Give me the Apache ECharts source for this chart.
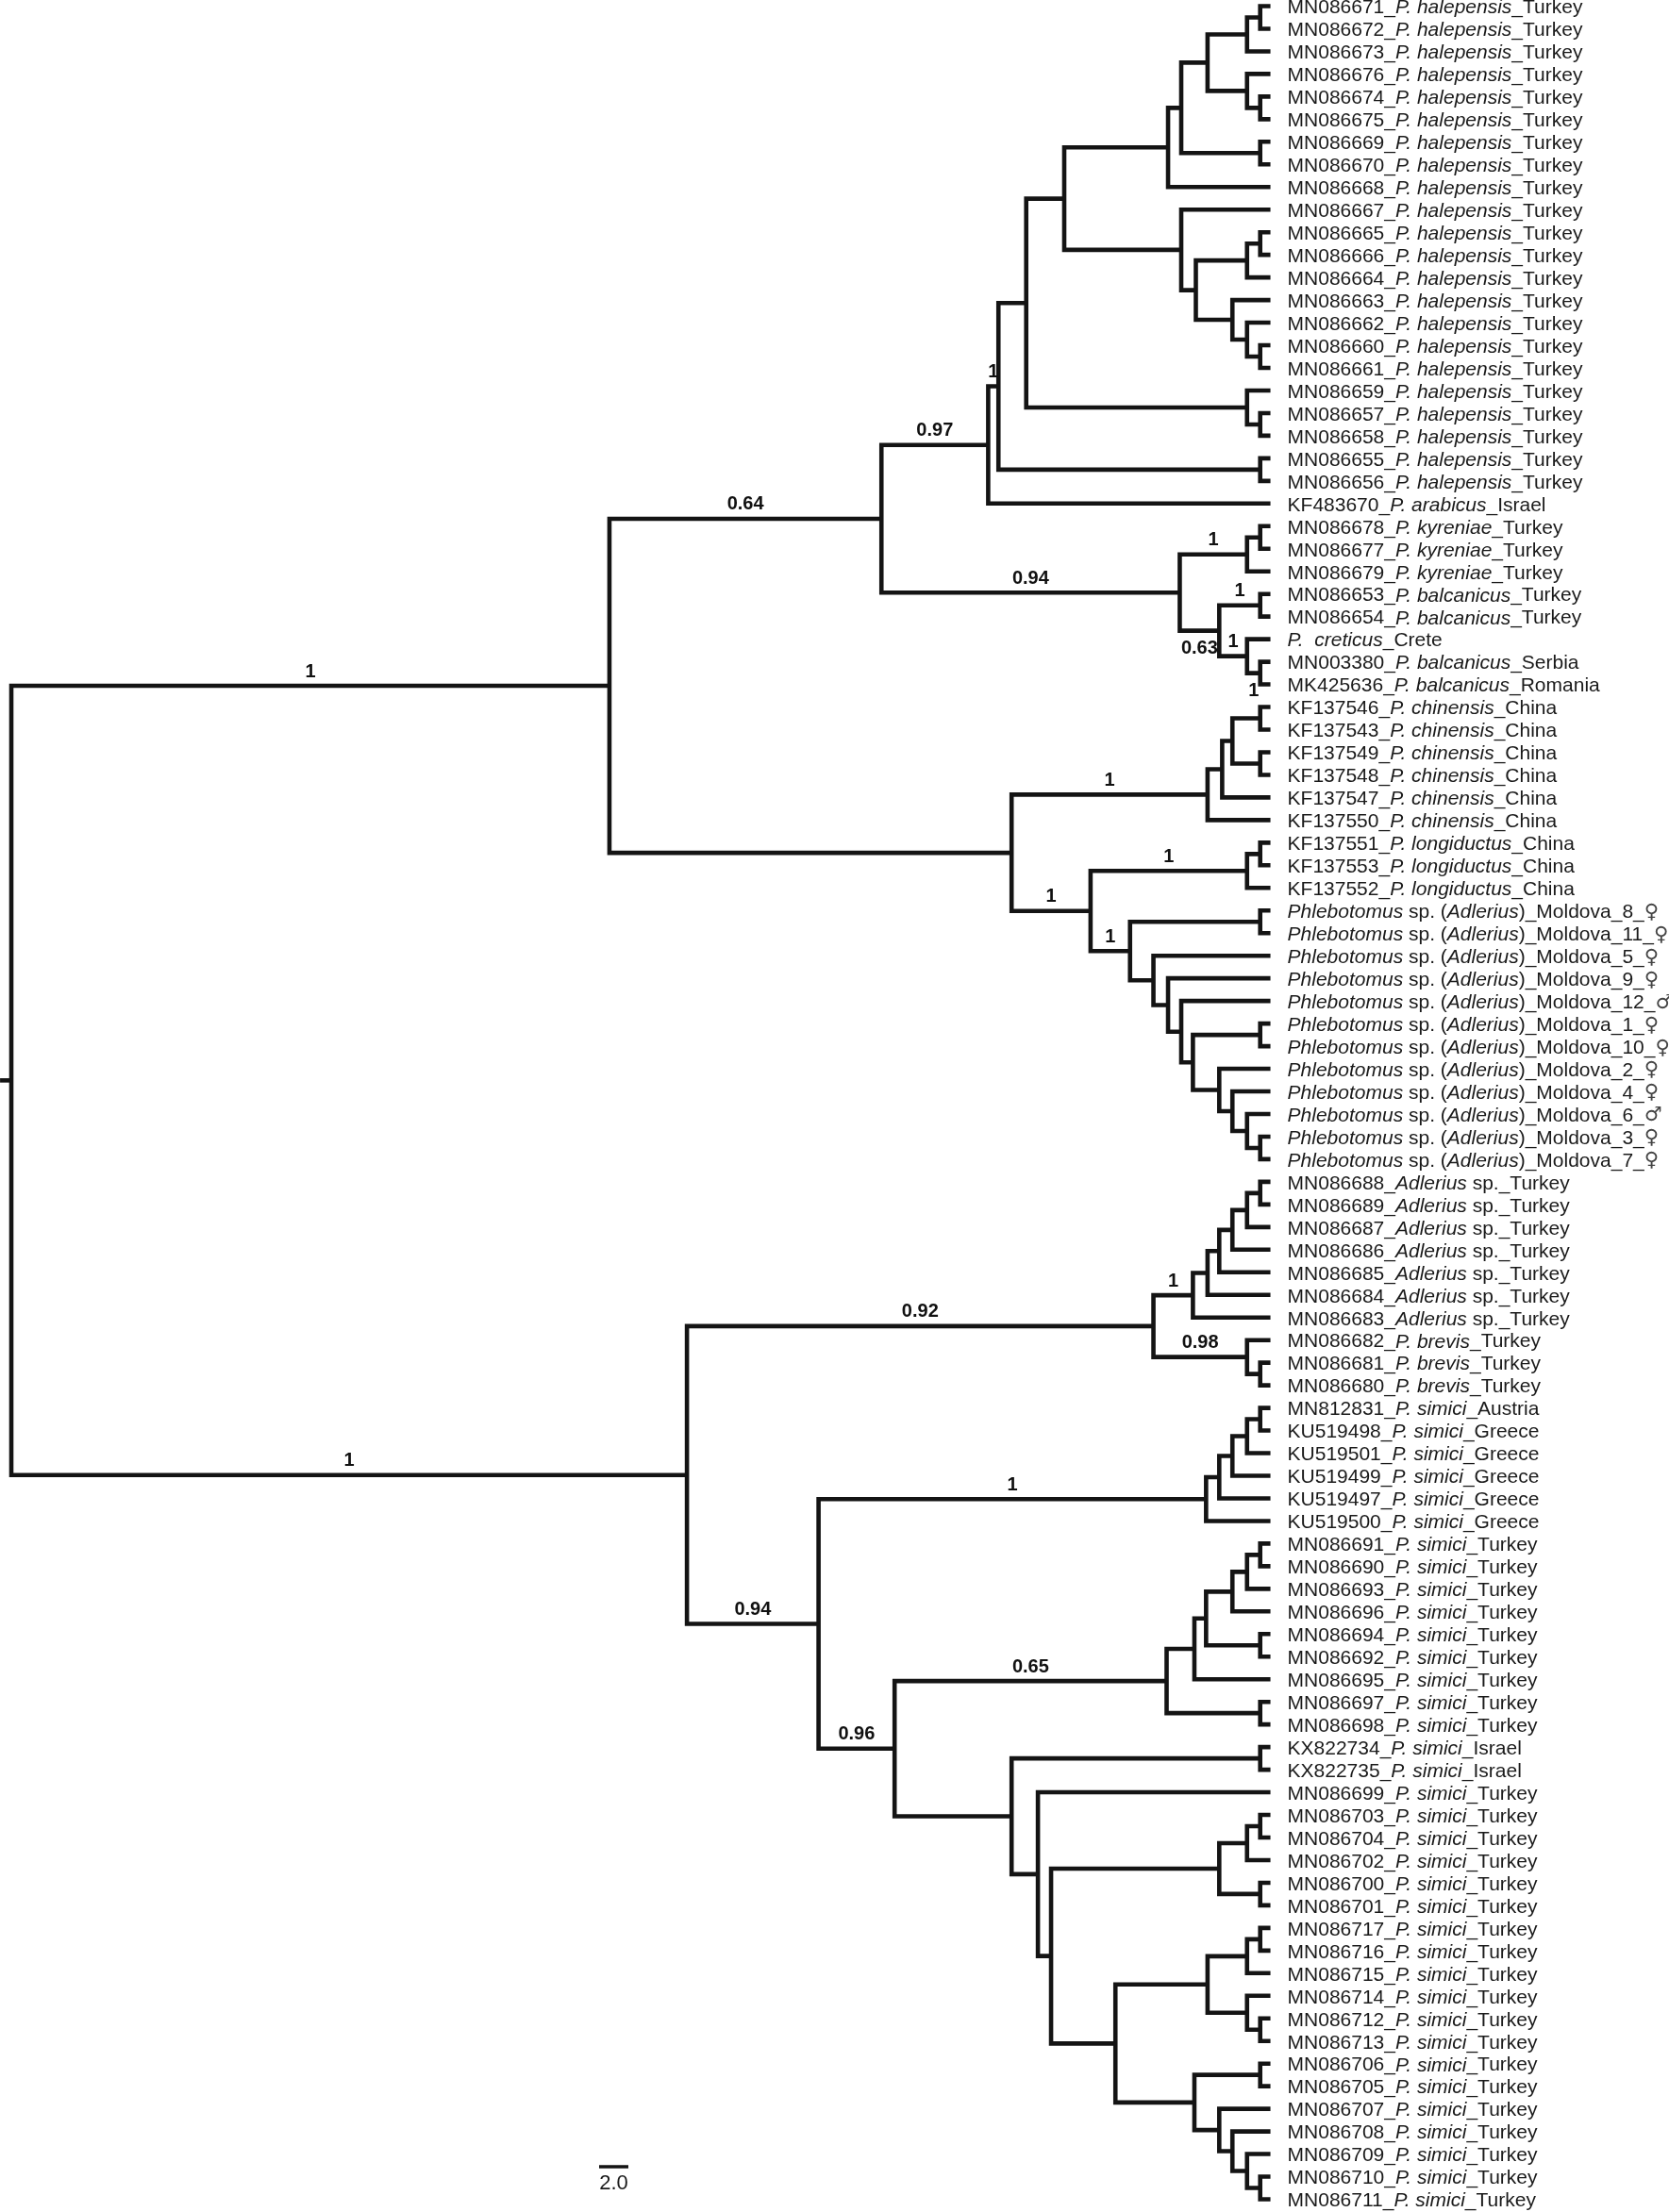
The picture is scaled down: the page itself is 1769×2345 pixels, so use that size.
<!DOCTYPE html>
<html><head><meta charset="utf-8">
<script src="https://cdn.jsdelivr.net/npm/echarts@6/dist/echarts.min.js"></script>
<style>html,body{margin:0;padding:0;background:#fff}#c{width:1769px;height:2345px}</style>
</head><body><div id="c"></div>
<script>
// ---------- DATA ----------
// Tip labels, top to bottom (text between * * is italic)
const leafLabels = [
"MN086671_*P. halepensis*_Turkey","MN086672_*P. halepensis*_Turkey","MN086673_*P. halepensis*_Turkey",
"MN086676_*P. halepensis*_Turkey","MN086674_*P. halepensis*_Turkey","MN086675_*P. halepensis*_Turkey",
"MN086669_*P. halepensis*_Turkey","MN086670_*P. halepensis*_Turkey","MN086668_*P. halepensis*_Turkey",
"MN086667_*P. halepensis*_Turkey","MN086665_*P. halepensis*_Turkey","MN086666_*P. halepensis*_Turkey",
"MN086664_*P. halepensis*_Turkey","MN086663_*P. halepensis*_Turkey","MN086662_*P. halepensis*_Turkey",
"MN086660_*P. halepensis*_Turkey","MN086661_*P. halepensis*_Turkey","MN086659_*P. halepensis*_Turkey",
"MN086657_*P. halepensis*_Turkey","MN086658_*P. halepensis*_Turkey","MN086655_*P. halepensis*_Turkey",
"MN086656_*P. halepensis*_Turkey","KF483670_*P. arabicus*_Israel",
"MN086678_*P. kyreniae*_Turkey","MN086677_*P. kyreniae*_Turkey","MN086679_*P. kyreniae*_Turkey",
"MN086653_*P. balcanicus*_Turkey","MN086654_*P. balcanicus*_Turkey","*P.  creticus*_Crete",
"MN003380_*P. balcanicus*_Serbia","MK425636_*P. balcanicus*_Romania",
"KF137546_*P. chinensis*_China","KF137543_*P. chinensis*_China","KF137549_*P. chinensis*_China",
"KF137548_*P. chinensis*_China","KF137547_*P. chinensis*_China","KF137550_*P. chinensis*_China",
"KF137551_*P. longiductus*_China","KF137553_*P. longiductus*_China","KF137552_*P. longiductus*_China",
"*Phlebotomus* sp. (*Adlerius*)_Moldova_8_♀","*Phlebotomus* sp. (*Adlerius*)_Moldova_11_♀",
"*Phlebotomus* sp. (*Adlerius*)_Moldova_5_♀","*Phlebotomus* sp. (*Adlerius*)_Moldova_9_♀",
"*Phlebotomus* sp. (*Adlerius*)_Moldova_12_♂","*Phlebotomus* sp. (*Adlerius*)_Moldova_1_♀",
"*Phlebotomus* sp. (*Adlerius*)_Moldova_10_♀","*Phlebotomus* sp. (*Adlerius*)_Moldova_2_♀",
"*Phlebotomus* sp. (*Adlerius*)_Moldova_4_♀","*Phlebotomus* sp. (*Adlerius*)_Moldova_6_♂",
"*Phlebotomus* sp. (*Adlerius*)_Moldova_3_♀","*Phlebotomus* sp. (*Adlerius*)_Moldova_7_♀",
"MN086688_*Adlerius* sp._Turkey","MN086689_*Adlerius* sp._Turkey","MN086687_*Adlerius* sp._Turkey",
"MN086686_*Adlerius* sp._Turkey","MN086685_*Adlerius* sp._Turkey","MN086684_*Adlerius* sp._Turkey",
"MN086683_*Adlerius* sp._Turkey","MN086682_*P. brevis*_Turkey","MN086681_*P. brevis*_Turkey",
"MN086680_*P. brevis*_Turkey","MN812831_*P. simici*_Austria","KU519498_*P. simici*_Greece",
"KU519501_*P. simici*_Greece","KU519499_*P. simici*_Greece","KU519497_*P. simici*_Greece",
"KU519500_*P. simici*_Greece","MN086691_*P. simici*_Turkey","MN086690_*P. simici*_Turkey",
"MN086693_*P. simici*_Turkey","MN086696_*P. simici*_Turkey","MN086694_*P. simici*_Turkey",
"MN086692_*P. simici*_Turkey","MN086695_*P. simici*_Turkey","MN086697_*P. simici*_Turkey",
"MN086698_*P. simici*_Turkey","KX822734_*P. simici*_Israel","KX822735_*P. simici*_Israel",
"MN086699_*P. simici*_Turkey","MN086703_*P. simici*_Turkey","MN086704_*P. simici*_Turkey",
"MN086702_*P. simici*_Turkey","MN086700_*P. simici*_Turkey","MN086701_*P. simici*_Turkey",
"MN086717_*P. simici*_Turkey","MN086716_*P. simici*_Turkey","MN086715_*P. simici*_Turkey",
"MN086714_*P. simici*_Turkey","MN086712_*P. simici*_Turkey","MN086713_*P. simici*_Turkey",
"MN086706_*P. simici*_Turkey","MN086705_*P. simici*_Turkey","MN086707_*P. simici*_Turkey",
"MN086708_*P. simici*_Turkey","MN086709_*P. simici*_Turkey","MN086710_*P. simici*_Turkey",
"MN086711_*P. simici*_Turkey"
];

// Tree topology: tips are 1-based indices into leafLabels.
// ":d" = node depth from the root (scale units), "[s]" = posterior support, "b" = label drawn under branch
const tipDepth = 86.1;
const rootStub = 0.77;
const cladeHalep1 = "((((((1,2):85.4,3):84.5,(4,(5,6):85.4):84.5):81.8,(7,8):85.4):80.0,9):79.1,(10,(((11,12):85.4,13):84.5,(14,(15,(16,17):85.4):84.5):83.5):81.0):80.0):72.0";
const cladeHalep = "(((" + cladeHalep1 + ",(18,(19,20):85.4):84.5):69.4,(21,22):85.4):67.5[1],23):66.8[0.97]";
const cladeKyrBalc = "(((24,25):85.4,26):84.5[1],((27,28):85.4[1],(29,(30,31):85.4[1b]):84.5[1]):82.6[0.63b]):79.9[0.94]";
const cladeChin = "((((32,33):85.4,(34,35):85.4):83.5,36):82.8,37):81.8[1]";
const cladeMold = "(((38,39):85.4,40):84.5[1],((41,42):85.4,(43,(44,(45,((46,47):85.4,(48,(49,(50,(51,52):85.4):84.5):83.5):82.6):80.8):80.0):79.1):78.1):76.5[1]):73.8[1]";
const cladeUpper = "((" + cladeHalep + "," + cladeKyrBalc + "):59.5[0.64],(" + cladeChin + "," + cladeMold + "):68.4):40.9[1]";
const cladeBrevis = "(((((((53,54):85.4,55):84.5,56):83.5,57):82.6,58):81.8,59):80.8[1],(60,(61,62):85.4):84.5[0.98]):78.1[0.92]";
const cladeSimGr = "(((((63,64):85.4,65):84.5,66):83.5,67):82.6,68):81.7[1]";
const cladeSimTr1 = "((((((69,70):85.4,71):84.5,72):83.5,(73,74):85.4):81.7,75):80.9,(76,77):85.4):79.0[0.65]";
const cladeSimTr2 = "((78,79):85.4,(80,((((81,82):85.4,83):84.5,(84,85):85.4):82.6,((((86,87):85.4,88):84.5,(89,(90,91):85.4):84.5):81.8,((92,93):85.4,(94,(95,(96,(97,98):85.4):84.5):83.5):82.6):80.9):75.5):71.1):70.2):68.4";
const cladeLower = "(" + cladeBrevis + ",(" + cladeSimGr + ",(" + cladeSimTr1 + "," + cladeSimTr2 + "):60.4[0.96]):55.2[0.94]):46.2[1]";
const newick = "(" + cladeUpper + "," + cladeLower + "):0";

const scaleBarLength = 2.0;
const scaleBarLabel = "2.0";

// ---------- PARSE / LAYOUT ----------
function parseNewick(s) {
  let i = 0;
  function node() {
    const n = { children: [] };
    if (s[i] === '(') {
      i++;
      n.children.push(node());
      while (s[i] === ',') { i++; n.children.push(node()); }
      i++; // ')'
    } else {
      const m = /^\d+/.exec(s.slice(i)); n.leaf = +m[0]; i += m[0].length;
    }
    if (s[i] === ':') { i++; const m = /^[\d.]+/.exec(s.slice(i)); n.depth = +m[0]; i += m[0].length; }
    if (s[i] === '[') { const j = s.indexOf(']', i); const t = s.slice(i + 1, j); n.below = t.endsWith('b'); n.support = t.replace('b', ''); i = j + 1; }
    return n;
  }
  return node();
}
const tree = parseNewick(newick);
const nodes = [];
(function layout(n) {
  if (n.leaf !== undefined) { n.y = n.leaf - 1; n.d = tipDepth; }
  else { n.children.forEach(layout); n.y = (n.children[0].y + n.children[n.children.length - 1].y) / 2; n.d = n.depth; }
  nodes.push(n);
})(tree);

const paths = [];
const supports = [];
nodes.forEach(n => {
  if (!n.children.length) return;
  const a = n.children[0], b = n.children[n.children.length - 1];
  paths.push([[a.d, a.y], [n.d, a.y], [n.d, b.y], [b.d, b.y]]);
  n.children.slice(1, -1).forEach(c => paths.push([[n.d, c.y], [c.d, c.y]]));
  n.children.forEach(c => { if (c.support) supports.push({ x: (n.d + c.d) / 2, y: c.y, text: c.support, below: c.below }); });
});
paths.push([[-rootStub, tree.y], [0, tree.y]]);

// ---------- CHART ----------
const FONT = '"Liberation Sans", Arial, Helvetica, "DejaVu Sans", sans-serif';
const INK = '#141414';
const toRich = s => s.replace(/\*([^*]+)\*/g, '{i|$1}').replace(/([♀♂])/g, '{s|$1}');

const chart = echarts.init(document.getElementById('c'));
chart.setOption({
  animation: false,
  backgroundColor: '#ffffff',
  grid: { left: 12, top: 6.5, width: 1550, height: 2325 },
  xAxis: { type: 'value', min: 0, max: 100, show: false },
  yAxis: { type: 'value', min: 0, max: 97, inverse: true, show: false },
  series: [
    {
      type: 'custom', silent: true, clip: false,
      data: paths.map(p => [p[1][0], p[1][1]]),
      renderItem: (params, api) => ({
        type: 'polyline',
        shape: { points: paths[params.dataIndex].map(pt => api.coord(pt)) },
        style: { stroke: INK, lineWidth: 4.6, fill: null, lineJoin: 'miter', lineCap: 'butt' }
      })
    },
    {
      type: 'custom', silent: true, clip: false,
      data: leafLabels.map((l, i) => [tipDepth, i]),
      renderItem: (params, api) => {
        const p = api.coord([api.value(0), api.value(1)]);
        return {
          type: 'text', x: p[0] + 18, y: p[1] + 2,
          style: {
            text: toRich(leafLabels[params.dataIndex]),
            fill: '#1a1a1a', fontSize: 21, fontFamily: FONT, align: 'left', verticalAlign: 'middle', lineHeight: 24,
            rich: {
              i: { fontStyle: 'italic', fontSize: 21, fontFamily: FONT, fill: '#1a1a1a', lineHeight: 24 },
              s: { fontSize: 21, fontFamily: '"DejaVu Sans", sans-serif', fill: '#444', lineHeight: 24 }
            }
          }
        };
      }
    },
    {
      type: 'custom', silent: true, clip: false,
      data: supports.map(s => [s.x, s.y]),
      renderItem: (params, api) => {
        const s = supports[params.dataIndex];
        const p = api.coord([api.value(0), api.value(1)]);
        return {
          type: 'text', x: p[0], y: s.below ? p[1] + 9 : p[1] - 5,
          style: {
            text: s.text, fill: '#111', fontSize: 20, fontWeight: 'bold', fontFamily: FONT,
            align: 'center', verticalAlign: s.below ? 'top' : 'bottom'
          }
        };
      }
    },
    {
      type: 'custom', silent: true, clip: false,
      data: [[0, 0]],
      renderItem: (params, api) => {
        const len = api.size([scaleBarLength, 0])[0];
        const x0 = 635, y0 = 2297;
        return {
          type: 'group',
          children: [
            { type: 'line', shape: { x1: x0, y1: y0, x2: x0 + len, y2: y0 }, style: { stroke: INK, lineWidth: 3.5 } },
            { type: 'text', x: x0 + len / 2, y: y0 + 7, style: { text: scaleBarLabel, fill: '#1a1a1a', fontSize: 22, fontFamily: FONT, align: 'center', verticalAlign: 'top' } }
          ]
        };
      }
    }
  ]
});
</script>
</body></html>
